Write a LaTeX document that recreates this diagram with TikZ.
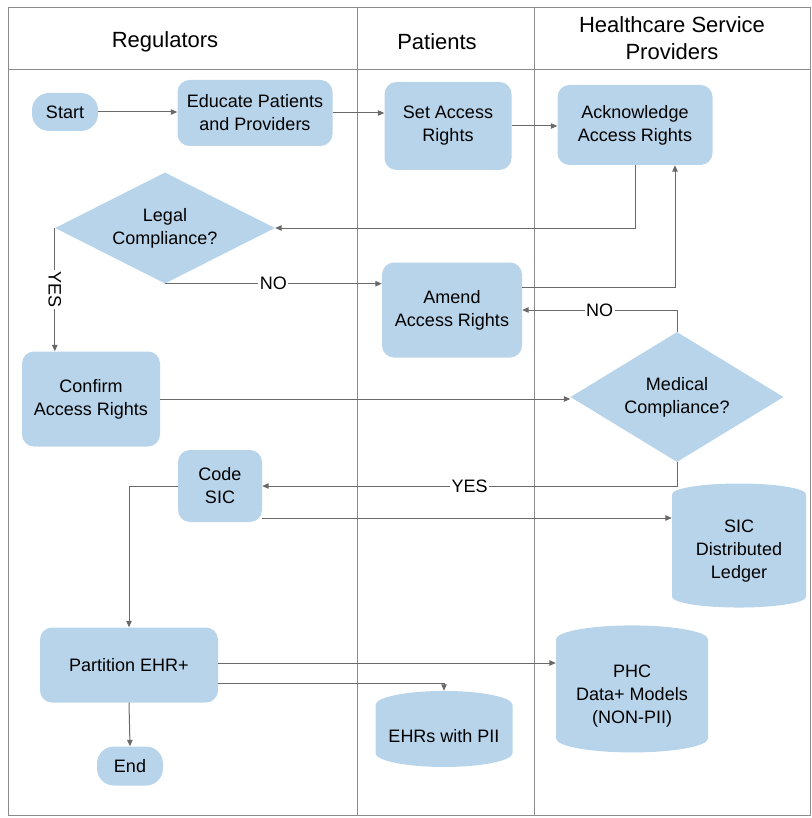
\documentclass[tikz,border=0pt]{standalone}
\usepackage{fontspec}
\setmainfont{Liberation Sans}
\usetikzlibrary{shapes.geometric,arrows.meta,calc}

\definecolor{boxblue}{RGB}{184,212,234}
\definecolor{linegray}{RGB}{105,105,105}
\definecolor{framegray}{RGB}{140,140,140}

\begin{document}
\begin{tikzpicture}[x=1pt,y=-1pt,
  every node/.style={font=\fontsize{18}{23}\selectfont, align=center, text=black},
  box/.style={fill=boxblue, rounded corners=12pt, inner sep=0pt},
  pill/.style={fill=boxblue, rounded corners=17pt, inner sep=0pt},
  decision/.style={diamond, fill=boxblue, inner sep=0pt, aspect=2},
  store/.style={cylinder, shape border rotate=90, fill=boxblue, aspect=0.25, inner sep=0pt},
  flow/.style={draw=linegray, line width=1pt, -{Triangle[width=5.5pt,length=6.5pt]}},
  lbl/.style={fill=white, inner sep=1.5pt},
  lane/.style={draw=framegray, line width=1pt},
  head/.style={font=\fontsize{22}{27}\selectfont}
]
\useasboundingbox (0,0) rectangle (811,818);

% swimlane frame
\draw[lane] (8,8) rectangle (810,815);
\draw[lane] (8,70) -- (810,70);
\draw[lane] (357,8) -- (357,815);
\draw[lane] (534,8) -- (534,815);

\node[head] (hreg) at (165,42) {Regulators};
\node[head] (hpat) at (437,42) {Patients};
\node[head] (hhsp) at (672,38) {Healthcare Service\\Providers};

% process steps
\node[pill, minimum width=66pt, minimum height=38pt] (start) at (65,112) {Start};
\node[box, minimum width=155pt, minimum height=66pt] (educate) at (255,113) {Educate Patients\\and Providers};
\node[box, minimum width=127pt, minimum height=88pt] (setar) at (448,126) {Set Access\\Rights};
\node[box, minimum width=155pt, minimum height=80pt] (ack) at (635,125) {Acknowledge\\Access Rights};
\node[decision, minimum width=220pt, minimum height=111pt] (legal) at (165,228) {Legal\\Compliance?};
\node[box, minimum width=140pt, minimum height=95pt] (amend) at (452,310) {Amend\\Access Rights};
\node[box, minimum width=138pt, minimum height=95pt] (confirm) at (91,399) {Confirm\\Access Rights};
\node[decision, minimum width=213pt, minimum height=130pt] (medical) at (677,397) {Medical\\Compliance?};
\node[box, minimum width=84pt, minimum height=72pt] (code) at (220,486) {Code\\SIC};
\node[store, minimum width=134pt, minimum height=124pt] (ledger) at (739,551) {SIC\\Distributed\\Ledger};
\node[box, minimum width=178pt, minimum height=75pt] (partition) at (129,665) {Partition EHR+};
\node[pill, minimum width=66pt, minimum height=39pt] (end) at (130,766) {End};
\node[store, minimum width=137pt, minimum height=76pt] (ehr) at (444,736) {EHRs with PII};
\node[store, minimum width=152pt, minimum height=127pt] (phc) at (632,696) {PHC\\Data+ Models\\(NON-PII)};

% branch points on box sides
\coordinate (amendout) at ($(amend.east)+(0,-23)$);
\coordinate (codeout) at ($(code.east)+(0,32)$);
\coordinate (partout) at ($(partition.east)+(0,-2)$);
\coordinate (partlow) at ($(partition.east)+(0,18)$);

% connectors
\draw[flow] (start.east) -- (start.east -| educate.west);
\draw[flow] (educate.east) -- (educate.east -| setar.west);
\draw[flow] (setar.east) -- (setar.east -| ack.west);
\draw[flow] (ack.south) |- (legal.east);
\draw[flow] (legal.south) -- (legal.south -| amend.west)
  node[lbl, pos=0.5] (lno) {NO};
\draw[flow] (amendout) -| ([xshift=40pt]ack.south);
\draw[flow] (legal.west) -- (legal.west |- confirm.north)
  node[lbl, pos=0.5, rotate=-90] (lyes) {YES};
\draw[flow] (medical.north) |- (amend.east)
  node[lbl, pos=0.75] (mno) {NO};
\draw[flow] (confirm.east) -- (confirm.east -| medical.west);
\draw[flow] (medical.south) |- (code.east)
  node[lbl, pos=0.75] (myes) {YES};
\draw[flow] (codeout) -- (codeout -| ledger.west);
\draw[flow] (code.west) -| (partition.north);
\draw[flow] (partout) -- (partout -| phc.west);
\draw[flow] (partlow) -| (ehr.north);
\draw[flow] (partition.south) -- (end.north);
\end{tikzpicture}
\end{document}
